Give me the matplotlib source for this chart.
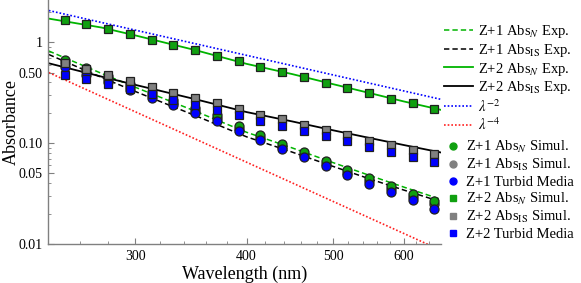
import numpy as np
import matplotlib.pyplot as plt
from matplotlib.lines import Line2D
from matplotlib.ticker import FixedLocator, NullFormatter, LogLocator

plt.rcParams['font.family'] = ['Liberation Serif', 'DejaVu Serif']
plt.rcParams['mathtext.fontset'] = 'stix'

# simulated points (nm)
wl = [250.0, 264.5, 279.7, 295.9, 313.0, 331.1, 350.2, 370.5, 391.9,
      414.5, 438.5, 463.8, 490.6, 519.0, 549.0, 580.7, 614.3, 649.8]

z1_absn_sim = [0.668, 0.560, 0.467, 0.389, 0.324, 0.270, 0.225, 0.188, 0.148,
               0.121, 0.0985, 0.0814, 0.0668, 0.0544, 0.0446, 0.0372, 0.0313, 0.0264]
z1_absis_sim = [0.624, 0.523, 0.436, 0.363, 0.303, 0.252, 0.210, 0.176, 0.138,
                0.113, 0.092, 0.076, 0.0624, 0.0508, 0.0417, 0.0347, 0.0292, 0.0247]
z1_turbid = [0.569, 0.475, 0.400, 0.337, 0.283, 0.239, 0.198, 0.164, 0.132,
             0.108, 0.0878, 0.0727, 0.0596, 0.0485, 0.0395, 0.0327, 0.0270, 0.0222]
z2_absn_sim = [1.663, 1.507, 1.345, 1.200, 1.061, 0.946, 0.833, 0.737, 0.653,
               0.573, 0.512, 0.450, 0.398, 0.355, 0.315, 0.276, 0.247, 0.220]
z2_absis_sim = [0.620, 0.540, 0.475, 0.414, 0.359, 0.317, 0.283, 0.249, 0.219,
                0.191, 0.173, 0.152, 0.135, 0.121, 0.106, 0.0962, 0.0858, 0.0778]
z2_turbid = [0.475, 0.430, 0.384, 0.342, 0.306, 0.268, 0.239, 0.214, 0.191,
             0.167, 0.148, 0.132, 0.118, 0.104, 0.0925, 0.0814, 0.0727, 0.0648]

# experimental curves
wl_exp = [240, 275, 300, 350, 400, 450, 500, 550, 600, 660]
z1_absn_exp = [0.818, 0.491, 0.358, 0.208, 0.128, 0.0896, 0.0641, 0.0477, 0.0367, 0.0278]
z1_absis_exp = [0.755, 0.448, 0.325, 0.188, 0.1154, 0.0814, 0.0588, 0.0441, 0.0343, 0.0263]
z2_absn_exp = [1.713, 1.398, 1.168, 0.837, 0.610, 0.483, 0.384, 0.313, 0.259, 0.214]
z2_absis_exp = [0.618, 0.456, 0.378, 0.273, 0.203, 0.164, 0.134, 0.1123, 0.0958, 0.0809]

# reference power laws
wl_ref = [240, 660]
lam2 = [2.06, 0.272]
lam4 = [0.50, 0.0087]

green_line = '#00b400'
green_mk = '#10a010'
gray = '#808080'
blue = '#0000ff'

fig = plt.figure(figsize=(5.81, 2.83), dpi=100)
ax = fig.add_axes([48 / 581, 39 / 283, 392.5 / 581, 244 / 283])

ax.plot(wl_ref, lam2, color=blue, ls=(0, (1, 1.2)), lw=1.2)
ax.plot(wl_ref, lam4, color='#ff2020', ls=(0, (1, 1.2)), lw=1.2)
ax.plot(wl_exp, z1_absn_exp, color=green_line, ls=(0, (3.5, 2)), lw=1.1)
ax.plot(wl_exp, z1_absis_exp, color='black', ls=(0, (3.5, 2)), lw=1.1)
ax.plot(wl_exp, z2_absn_exp, color=green_line, lw=1.3)
ax.plot(wl_exp, z2_absis_exp, color='black', lw=1.3)

mk = dict(ls='none', mec='#202020', mew=0.9)
ax.plot(wl, z1_absis_sim, marker='o', ms=6.5, mfc=gray, **mk)
ax.plot(wl, z1_absn_sim, marker='o', ms=6.5, mfc=green_mk, **mk)
ax.plot(wl, z1_turbid, marker='o', ms=6.5, mfc=blue, **mk)
ax.plot(wl, z2_absn_sim, marker='s', ms=6, mfc=green_mk, **mk)
ax.plot(wl, z2_absis_sim, marker='s', ms=6, mfc=gray, **mk)
ax.plot(wl, z2_turbid, marker='s', ms=6, mfc=blue, **mk)

ax.set_xscale('log')
ax.set_yscale('log')
ax.set_xlim(239.5, 660)
ax.set_ylim(0.01, 2.62)

ax.xaxis.set_major_locator(FixedLocator([300, 400, 500, 600]))
ax.xaxis.set_minor_locator(FixedLocator([260, 280, 320, 340, 360, 380, 420, 440, 460,
                                         480, 520, 540, 560, 580, 620, 640]))
ax.set_xticklabels(['300', '400', '500', '600'])
ax.xaxis.set_minor_formatter(NullFormatter())
ax.yaxis.set_major_locator(FixedLocator([0.01, 0.05, 0.1, 0.5, 1]))
ax.set_yticklabels(['0.01', '0.05', '0.10', '0.50', '1'])
ax.yaxis.set_minor_locator(LogLocator(base=10, subs=np.arange(2, 10)))
ax.yaxis.set_minor_formatter(NullFormatter())

for s in ['top', 'right']:
    ax.spines[s].set_visible(False)
for s in ['left', 'bottom']:
    ax.spines[s].set_color(gray)
    ax.spines[s].set_linewidth(1.0)
ax.tick_params(which='both', direction='in', color=gray, labelsize=10, pad=4)
ax.tick_params(which='major', length=4)
ax.tick_params(which='minor', length=2.2)

ax.set_xlabel('Wavelength (nm)', fontsize=13, labelpad=2)
ax.set_ylabel('Absorbance', fontsize=13, labelpad=-1)

line_handles = [
    Line2D([], [], color=green_line, ls=(0, (3.5, 2)), lw=1.1),
    Line2D([], [], color='black', ls=(0, (3.5, 2)), lw=1.1),
    Line2D([], [], color=green_line, lw=1.3),
    Line2D([], [], color='black', lw=1.3),
    Line2D([], [], color=blue, ls=(0, (1, 1.2)), lw=1.2),
    Line2D([], [], color='#ff2020', ls=(0, (1, 1.2)), lw=1.2),
]
line_labels = ['Z+1 Abs$_N$ Exp.', 'Z+1 Abs$_\\mathrm{IS}$ Exp.',
               'Z+2 Abs$_N$ Exp.', 'Z+2 Abs$_\\mathrm{IS}$ Exp.',
               '$\\lambda^{-2}$', '$\\lambda^{-4}$']
leg1 = fig.legend(line_handles, line_labels, loc='upper left',
                  bbox_to_anchor=(444 / 581, 1 - 23 / 283), frameon=False,
                  fontsize=10.5, handlelength=2.0, handletextpad=0.35,
                  labelspacing=0.12, borderpad=0, borderaxespad=0)

mk_handles = [
    Line2D([], [], ls='none', marker='o', ms=5, color=green_mk),
    Line2D([], [], ls='none', marker='o', ms=5, color=gray),
    Line2D([], [], ls='none', marker='o', ms=5, color=blue),
    Line2D([], [], ls='none', marker='s', ms=4.5, color=green_mk),
    Line2D([], [], ls='none', marker='s', ms=4.5, color=gray),
    Line2D([], [], ls='none', marker='s', ms=4.5, color=blue),
]
mk_labels = ['Z+1 Abs$_N$ Simul.', 'Z+1 Abs$_\\mathrm{IS}$ Simul.', 'Z+1 Turbid Media',
             'Z+2 Abs$_N$ Simul.', 'Z+2 Abs$_\\mathrm{IS}$ Simul.', 'Z+2 Turbid Media']
leg2 = fig.legend(mk_handles, mk_labels, loc='upper left',
                  bbox_to_anchor=(446 / 581, 1 - 139 / 283), frameon=False,
                  fontsize=10.5, handlelength=1.0, handletextpad=0.4,
                  labelspacing=0.15, borderpad=0, borderaxespad=0)

fig.savefig('out.png', dpi=100)
